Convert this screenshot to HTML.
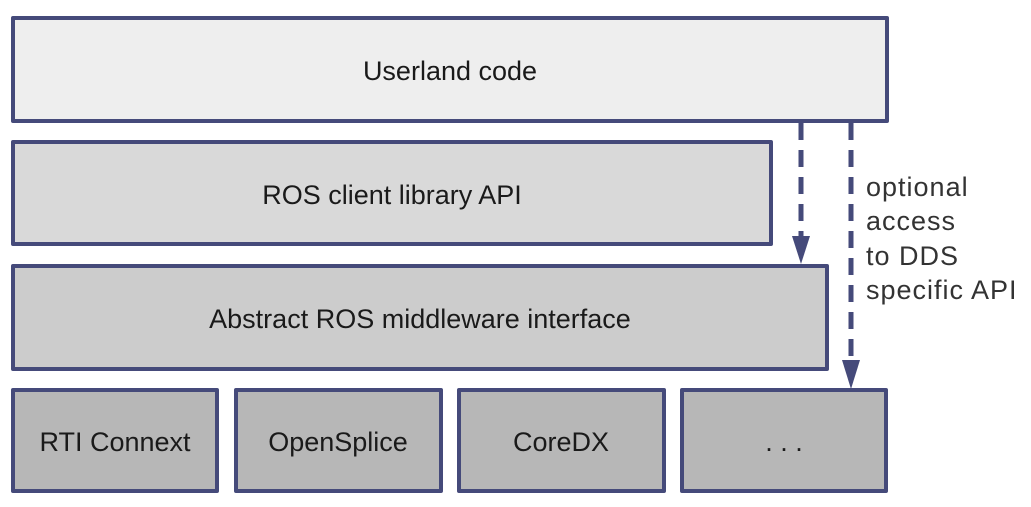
<!DOCTYPE html>
<html><head><style>
body{margin:0;background:#fff;}
</style></head><body>
<svg width="1031" height="502" xmlns="http://www.w3.org/2000/svg" font-family="Liberation Sans, sans-serif" font-size="27" fill="#1a1a1a">
<g stroke="#454a7a" stroke-width="4" stroke-linejoin="round">
<rect x="13" y="18" width="874" height="103" fill="#eeeeee"/>
<rect x="13" y="142" width="758" height="102" fill="#d9d9d9"/>
<rect x="13" y="266" width="814" height="103" fill="#cccccc"/>
<rect x="13" y="390" width="204" height="101" fill="#b7b7b7"/>
<rect x="236" y="390" width="205" height="101" fill="#b7b7b7"/>
<rect x="459" y="390" width="205" height="101" fill="#b7b7b7"/>
<rect x="682" y="390" width="204" height="101" fill="#b7b7b7"/>
<line x1="801" y1="123" x2="801" y2="246" stroke-width="5" stroke-dasharray="17,10" stroke-linejoin="miter"/>
<line x1="851" y1="123" x2="851" y2="370" stroke-width="5" stroke-dasharray="17,10" stroke-linejoin="miter"/>
</g>
<polygon points="792,236 810,236 801,264" fill="#454a7a"/>
<polygon points="842,360 860,360 851,389" fill="#454a7a"/>
<g text-anchor="middle">
<text x="450" y="80">Userland code</text>
<text x="392" y="204">ROS client library API</text>
<text x="420" y="328">Abstract ROS middleware interface</text>
<text x="115" y="451">RTI Connext</text>
<text x="338" y="451">OpenSplice</text>
<text x="561" y="451">CoreDX</text>
<text x="784" y="451">. . .</text>
</g>
<g fill="#333" font-size="27" letter-spacing="1">
<text x="866" y="196">optional</text>
<text x="866" y="230">access</text>
<text x="866" y="265">to DDS</text>
<text x="866" y="299">specific API</text>
</g>
</svg>
</body></html>
